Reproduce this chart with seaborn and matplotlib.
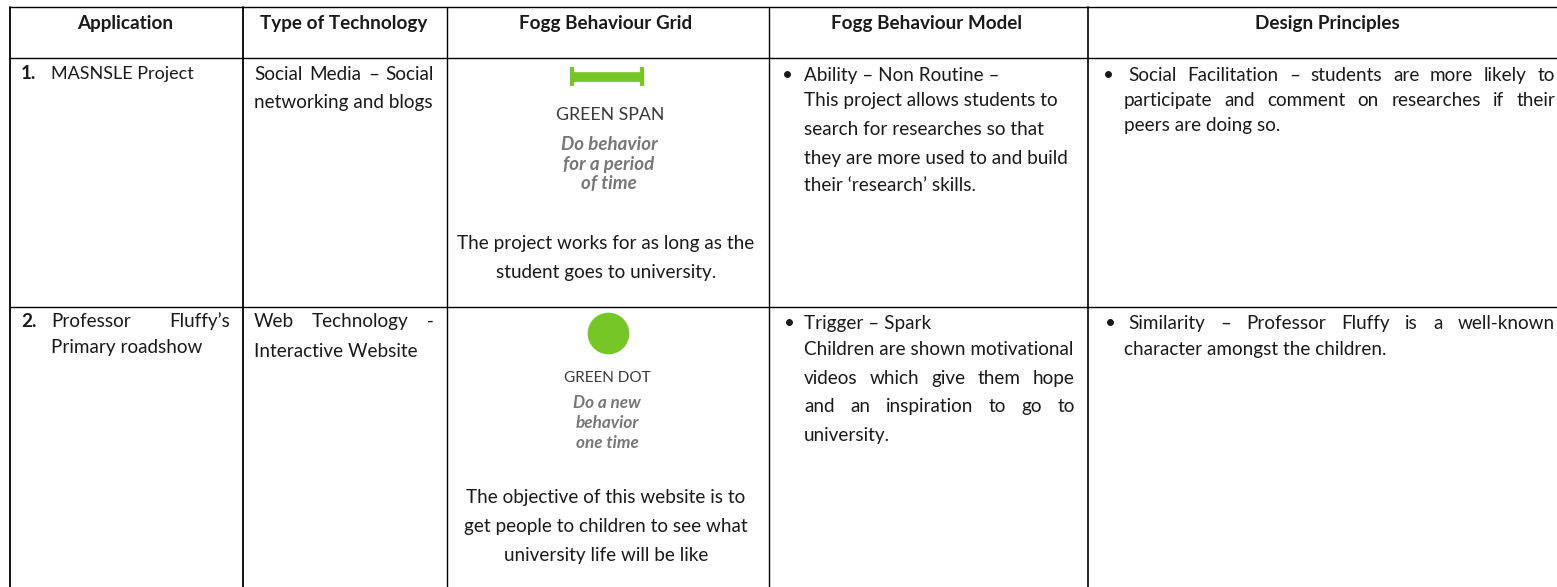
import matplotlib
matplotlib.use("Agg")
import matplotlib.pyplot as plt
import pandas as pd
import seaborn as sns

col_edges = [10, 243, 447, 769, 1088]
col_widths = [1.3, 1.3, 1.0, 1.0, 1.2]
row_edges = [7, 58, 307]
headers = ["Application", "Type of Technology", "Fogg Behaviour Grid", "Fogg Behaviour Model", "Design Principles"]
header_x = [125, 344, 606, 927, 1327]

sns.set_theme(style="white")
plt.rcParams['font.family'] = ['Lato', 'DejaVu Sans']

fig, ax = plt.subplots(figsize=(15.57, 5.87), dpi=100)
fig.subplots_adjust(0, 0, 1, 1)
ax.set_xlim(0, 1557)
ax.set_ylim(587, 0)
ax.axis("off")

FS = 13.6


def txt(x, y, s, **kw):
    kw.setdefault("fontsize", FS)
    kw.setdefault("color", "#1a1a1a")
    kw.setdefault("va", "center")
    # va=center sits a little high for this font
    return ax.text(x, y + 1.5, s, **kw)


def justified(x0, x1, y, s):
    # spread the words out between x0 and x1, like the word processor did
    words = s.split(" ")
    r = fig.canvas.get_renderer()
    arts = [txt(x0, y, w) for w in words]
    widths = [a.get_window_extent(r).width for a in arts]
    gap = (x1 - x0 - sum(widths)) / (len(words) - 1)
    pos = x0
    for a, w in zip(arts, widths):
        a.set_x(pos)
        pos += w + gap


# grid
for x, lw in zip(col_edges, col_widths):
    ax.plot([x, x], [7, 587], color="black", lw=lw)
for y in row_edges:
    ax.plot([10, 1557], [y, y], color="black", lw=1.0)

for x, h in zip(header_x, headers):
    txt(x, 22, h, ha="center", fontweight="bold")

# row 1
txt(21, 72, "1.", fontweight="bold")
txt(51, 72, "MASNSLE Project", fontsize=13)
justified(254, 434, 73, "Social Media – Social")
txt(254, 101, "networking and blogs")

ax.plot([572, 642], [77, 77], color="#76c626", lw=7, solid_capstyle="butt")
ax.plot([572, 572], [67, 86], color="#76c626", lw=3, solid_capstyle="butt")
ax.plot([642, 642], [67, 86], color="#76c626", lw=3, solid_capstyle="butt")
txt(610, 113, "GREEN SPAN", ha="center", color="#3a3a3a", fontsize=12.8)
for y, s in zip([143, 163, 182], ["Do behavior", "for a period", "of time"]):
    txt(609, y, s, ha="center", color="#777777", style="italic", fontsize=13.5, fontweight="bold")
txt(606, 242, "The project works for as long as the", ha="center")
txt(606, 271, "student goes to university.", ha="center")

txt(788, 74, "•", ha="center")
for y, s in zip([74, 99, 128, 157, 184], ["Ability – Non Routine –", "This project allows students to",
                                         "search for researches so that", "they are more used to and build",
                                         "their ‘research’ skills."]):
    txt(804, y, s)

txt(1109, 74, "•", ha="center")
justified(1128, 1555, 74, "Social Facilitation – students are more likely to")
justified(1124, 1555, 99, "participate and comment on researches if their")
txt(1124, 124, "peers are doing so.")

# row 2
txt(21, 320, "2.", fontweight="bold")
justified(51, 230, 320, "Professor Fluffy’s")
txt(51, 346, "Primary roadshow")
justified(254, 434, 320, "Web Technology -")
txt(254, 350, "Interactive Website")

dot = pd.DataFrame({"x": [608], "y": [333]})
sns.scatterplot(data=dot, x="x", y="y", s=900, color="#76c626", linewidth=0, ax=ax, legend=False)
ax.set_xlim(0, 1557)
ax.set_ylim(587, 0)
ax.axis("off")
txt(607, 376, "GREEN DOT", ha="center", color="#3a3a3a", fontsize=11)
for y, s in zip([402, 422, 441], ["Do a new", "behavior", "one time"]):
    txt(607, y, s, ha="center", color="#777777", style="italic", fontsize=12.3, fontweight="bold")
txt(606, 496, "The objective of this website is to", ha="center")
txt(606, 525, "get people to children to see what", ha="center")
txt(606, 554, "university life will be like", ha="center")

txt(790, 322, "•", ha="center")
txt(804, 322, "Trigger – Spark")
txt(804, 348, "Children are shown motivational")
justified(804, 1075, 377, "videos which give them hope")
justified(804, 1075, 405, "and an inspiration to go to")
txt(804, 434, "university.")

txt(1111, 322, "•", ha="center")
justified(1128, 1555, 322, "Similarity – Professor Fluffy is a well-known")
txt(1124, 348, "character amongst the children.")

plt.savefig("out.png", dpi=100)
